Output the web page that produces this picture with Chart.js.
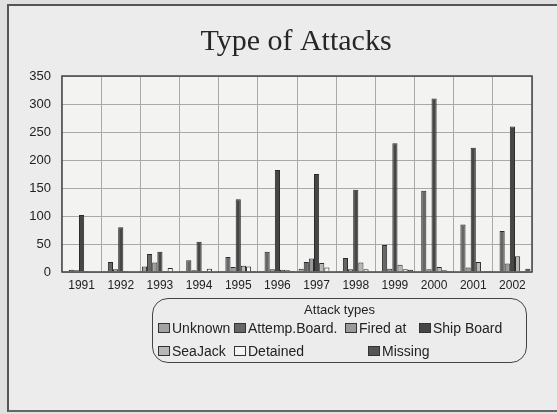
<!DOCTYPE html>
<html>
<head>
<meta charset="utf-8">
<title>Type of Attacks</title>
<script src="https://cdn.jsdelivr.net/npm/chart.js@4"></script>
<style>
  html, body { margin: 0; padding: 0; }
  body { width: 557px; height: 414px; overflow: hidden; position: relative; background: #e0e0e0;
         font-family: "Liberation Sans", Arial, sans-serif; }
  #frame { position: absolute; left: 7px; top: 4px; width: 570px; height: 404px; background: #ececec;
           border-left: 2px solid #555; border-top: 2px solid #555; border-bottom: 2px solid #666; }
  #chart { position: absolute; left: 20px; top: 0; }
  #legend { position: absolute; left: 152px; top: 298px; width: 375px; height: 65px; box-sizing: border-box;
            border: 1.5px solid #444; border-radius: 16px; color: #222; }
  #legend .ttl { position: absolute; left: 0; right: 0; top: 3px; text-align: center; font-size: 13px; line-height: 16px; }
  #legend .item { position: absolute; font-size: 14px; line-height: 18px; white-space: nowrap; }
  #legend .box { display: inline-block; width: 10px; height: 8px; border: 1px solid #333; margin-right: 2px; vertical-align: 0px; }
</style>
</head>
<body>
<div id="frame"></div>
<canvas id="chart" width="552" height="414"></canvas>
<div id="legend"><div class="ttl">Attack types</div></div>

<script>
  // values
  const years = ['1991', '1992', '1993', '1994', '1995', '1996', '1997', '1998', '1999', '2000', '2001', '2002'];
  const unknown     = [2, 2, 10, 2, 2, 2, 6, 2, 1, 1, 1, 1];
  const attempBoard = [4, 18, 32, 21, 27, 36, 18, 25, 48, 145, 85, 73];
  const firedAt     = [3, 5, 17, 3, 9, 5, 24, 5, 6, 5, 8, 15];
  const shipBoard   = [102, 80, 36, 54, 130, 182, 175, 147, 230, 310, 222, 260];
  const seaJack     = [2, 2, 2, 2, 11, 4, 16, 17, 13, 9, 18, 28];
  const detained    = [1, 1, 7, 6, 10, 3, 8, 5, 5, 3, 2, 2];
  const missing     = [0, 1, 0, 0, 2, 2, 1, 1, 4, 2, 2, 6];

  const seriesNames = ['Unknown', 'Attemp.Board.', 'Fired at', 'Ship Board', 'SeaJack', 'Detained', 'Missing'];
  const seriesData = [unknown, attempBoard, firedAt, shipBoard, seaJack, detained, missing];
  const seriesColors = ['#a2a2a2', '#666666', '#9a9a9a', '#464646', '#b8b8b8', '#f4f4f4', '#555555'];

  // plot background and frame around the plot area
  const plotBox = {
    id: 'plotBox',
    beforeDraw(chart) {
      const { ctx, chartArea: a } = chart;
      ctx.save();
      ctx.fillStyle = '#f3f3f2';
      ctx.fillRect(a.left, a.top, a.right - a.left, a.bottom - a.top);
      ctx.restore();
    },
    afterDraw(chart) {
      const { ctx, chartArea: a } = chart;
      ctx.save();
      ctx.strokeStyle = '#444';
      ctx.lineWidth = 1.5;
      ctx.strokeRect(a.left, a.top, a.right - a.left, a.bottom - a.top);
      ctx.restore();
    }
  };

  const chart = new Chart(document.getElementById('chart'), {
    type: 'bar',
    data: {
      labels: years,
      datasets: seriesNames.map((name, i) => ({
        label: name,
        data: seriesData[i],
        backgroundColor: seriesColors[i],
        borderColor: '#2b2b2b',
        borderWidth: 1,
        barPercentage: 1.0,
        categoryPercentage: 0.92
      }))
    },
    options: {
      responsive: false,
      animation: false,
      devicePixelRatio: 1,
      layout: { padding: { left: 0, right: 0, top: 0, bottom: 122 } },
      plugins: {
        legend: { display: false },
        tooltip: { enabled: false },
        title: {
          display: true,
          text: 'Type of Attacks',
          color: '#262626',
          font: { family: '"Liberation Serif", "Times New Roman", serif', size: 30, weight: 'normal' },
          padding: { top: 24, bottom: 16 }
        }
      },
      scales: {
        x: {
          grid: { color: '#a9a9a9', drawTicks: false },
          border: { display: false },
          ticks: { color: '#222', padding: 6, font: { family: '"Liberation Sans", Arial, sans-serif', size: 12 } },
          afterFit(s) { s.height = 20; }
        },
        y: {
          min: 0,
          max: 350,
          grid: { color: '#a9a9a9', drawTicks: false },
          border: { display: false },
          ticks: { stepSize: 50, color: '#222', padding: 11, font: { family: '"Liberation Sans", Arial, sans-serif', size: 13 } },
          afterFit(s) { s.width = 42; }
        },
        // empty right-hand axis, only keeps the plot's right edge where the scan has it
        yRight: {
          position: 'right',
          min: 0,
          max: 350,
          grid: { drawOnChartArea: false, drawTicks: false },
          border: { display: false },
          ticks: { display: false },
          afterFit(s) { s.width = 40; }
        }
      }
    },
    plugins: [plotBox]
  });

  // legend laid out like the original two-row box
  const legendPos = [[5, 29], [81, 29], [192, 29], [266, 29], [5, 52], [81, 52], [215, 52]];
  const legendEl = document.getElementById('legend');
  chart.data.datasets.forEach((ds, i) => {
    const item = document.createElement('div');
    item.className = 'item';
    item.style.left = legendPos[i][0] + 'px';
    item.style.top = (legendPos[i][1] - 9) + 'px';
    item.innerHTML = '<span class="box" style="background:' + ds.backgroundColor + '"></span>' + ds.label;
    legendEl.appendChild(item);
  });
</script>
</body>
</html>
